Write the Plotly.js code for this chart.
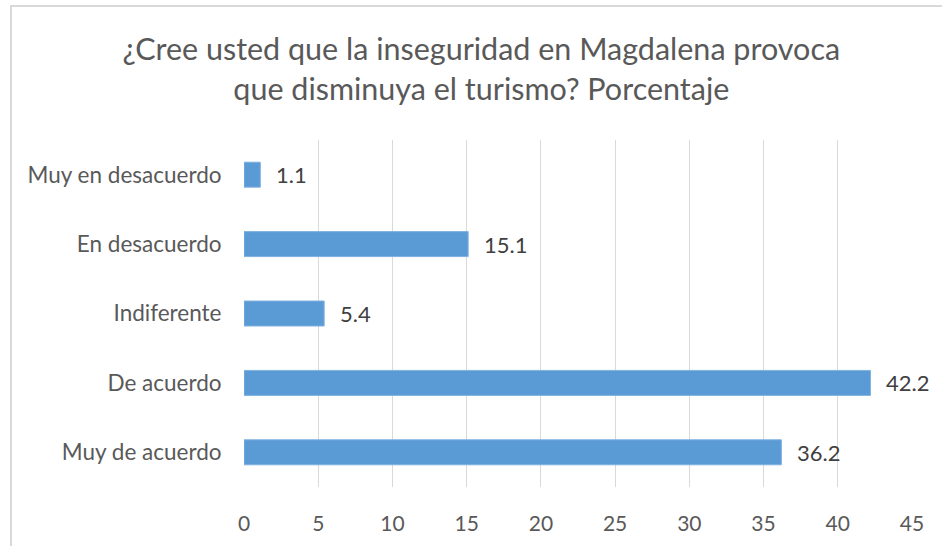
<!DOCTYPE html>
<html>
<head>
<meta charset="utf-8">
<script src="https://cdn.plot.ly/plotly-3.0.1.min.js"></script>
<style>
html,body{margin:0;padding:0;background:#fff;}
#chart{width:942px;height:546px;}
#frame{position:absolute;left:10px;top:5px;width:940px;height:545px;border-top:2px solid #d9d9d9;border-left:2px solid #d9d9d9;pointer-events:none;}
</style>
</head>
<body>
<div id="chart"></div>
<div id="frame"></div>
<script>
const categories = ["Muy en desacuerdo", "En desacuerdo", "Indiferente", "De acuerdo", "Muy de acuerdo"];
const percentages = [1.1, 15.1, 5.4, 42.2, 36.2];
const xTicks = [0, 5, 10, 15, 20, 25, 30, 35, 40, 45];
const titleText = "¿Cree usted que la inseguridad en Magdalena provoca<br>que disminuya el turismo? Porcentaje";

const FONT = "Lato, 'Open Sans', sans-serif";

const trace = {
  type: "bar",
  orientation: "h",
  x: percentages,
  y: categories,
  marker: {color: "#5b9bd5", line: {color: "#7fb2e0", width: 1}},
  width: 0.36,
  hoverinfo: "none"
};

const annotations = categories.map((c, i) => ({
  x: percentages[i], y: c, xref: "x", yref: "y",
  text: percentages[i].toFixed(1),
  showarrow: false, xanchor: "left", yanchor: "middle", xshift: 14,
  font: {family: FONT, size: 22, color: "#404040"}
}));

const layout = {
  width: 942, height: 546,
  margin: {l: 244, r: 30, t: 140, b: 59},
  paper_bgcolor: "#ffffff",
  plot_bgcolor: "#ffffff",
  showlegend: false,
  title: {
    text: titleText,
    font: {family: FONT, size: 30.5, color: "#595959"},
    x: 0.511, xref: "container", xanchor: "center",
    y: 0.890, yref: "container", yanchor: "middle"
  },
  xaxis: {
    range: [0, 45], tickvals: xTicks, ticktext: xTicks.map(String),
    showgrid: true, gridcolor: "#d9d9d9", gridwidth: 1,
    zeroline: false, showline: false,
    ticks: "outside", ticklen: 18, tickcolor: "rgba(0,0,0,0)",
    tickfont: {family: FONT, size: 21, color: "#595959"},
    fixedrange: true
  },
  yaxis: {
    autorange: "reversed", type: "category",
    showgrid: false, zeroline: false, showline: false,
    ticks: "outside", ticklen: 17, tickcolor: "rgba(0,0,0,0)",
    tickfont: {family: FONT, size: 22.5, color: "#595959"},
    fixedrange: true
  },
  annotations: annotations
};

Plotly.newPlot("chart", [trace], layout, {displayModeBar: false, staticPlot: true});
</script>
</body>
</html>
